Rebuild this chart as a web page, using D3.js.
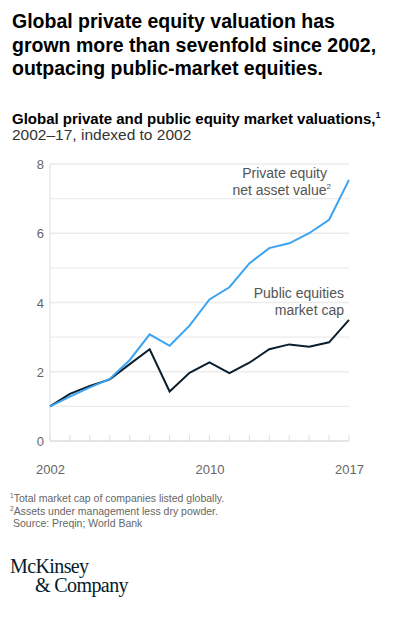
<!DOCTYPE html>
<html>
<head>
<meta charset="utf-8">
<script src="https://cdn.jsdelivr.net/npm/d3@7"></script>
<style>
  body { margin: 0; background: #fff; }
  svg { display: block; font-family: "Liberation Sans", Arial, sans-serif; }
</style>
</head>
<body>
<div id="chart"></div>
<script>
const years = [2002, 2003, 2004, 2005, 2006, 2007, 2008, 2009, 2010, 2011, 2012, 2013, 2014, 2015, 2016, 2017]
const privateEquity = [1, 1.28, 1.55, 1.79, 2.34, 3.08, 2.75, 3.33, 4.09, 4.44, 5.13, 5.57, 5.71, 6.0, 6.39, 7.54]
const publicEquity = [1, 1.36, 1.59, 1.78, 2.22, 2.65, 1.43, 1.97, 2.27, 1.96, 2.26, 2.65, 2.79, 2.72, 2.85, 3.5]
const yTicks = [0, 2, 4, 6, 8]
const xTickLabels = [2002, 2010, 2017]

const width = 393
const height = 617
const margin = { top: 164, left: 50, right: 44, bottom: 176 }

var svg = d3
    .select('#chart')
    .append('svg')
    .attr('width', width)
    .attr('height', height)

// headline + subtitle
var title = svg.append('text')
    .attr('x', 12)
    .attr('y', 28)
    .attr('font-size', 19.5)
    .attr('font-weight', 'bold')
    .attr('fill', '#000')
;['Global private equity valuation has',
  'grown more than sevenfold since 2002,',
  'outpacing public-market equities.'].forEach(function(line, i) {
    title.append('tspan').attr('x', 12).attr('dy', i ? 23.5 : 0).text(line)
})

var sub = svg.append('text')
    .attr('x', 12)
    .attr('y', 124)
    .attr('font-size', 15)
    .attr('fill', '#000')
sub.append('tspan').attr('font-weight', 'bold').text('Global private and public equity market valuations,')
sub.append('tspan').attr('font-size', 9).attr('dy', -6).attr('font-weight', 'bold').text('1')

svg.append('text')
    .attr('x', 12)
    .attr('y', 140)
    .attr('font-size', 15.5)
    .attr('fill', '#333')
    .text('2002\u201317, indexed to 2002')

var x = d3.scaleLinear()
    .domain([2002, 2017])
    .range([margin.left, width - margin.right])

var y = d3.scaleLinear()
    .domain([0, 8])
    .range([height - margin.bottom, margin.top])

var g = svg.append('g')

// horizontal grid at every whole number
g.selectAll('.grid')
    .data(d3.range(0, 9))
    .enter().append('line')
    .attr('class', 'grid')
    .attr('x1', x(2002))
    .attr('x2', x(2017))
    .attr('y1', function(d) { return y(d) })
    .attr('y2', function(d) { return y(d) })
    .attr('stroke', function(d) { return d === 0 ? '#dcdcdc' : '#ebebeb' })
    .attr('stroke-width', function(d) { return d % 2 === 0 ? 1.5 : 1.2 })

// left axis line
g.append('line')
    .attr('x1', x(2002)).attr('x2', x(2002))
    .attr('y1', y(0)).attr('y2', y(8))
    .attr('stroke', '#e4e4e4')
    .attr('stroke-width', 1.2)

// year ticks sitting on the baseline
g.selectAll('.yr')
    .data(years)
    .enter().append('line')
    .attr('class', 'yr')
    .attr('x1', function(d) { return x(d) })
    .attr('x2', function(d) { return x(d) })
    .attr('y1', y(0))
    .attr('y2', y(0) - 6)
    .attr('stroke', '#dcdcdc')
    .attr('stroke-width', 1)

var yAxis = d3.axisLeft(y).tickValues(yTicks).tickSize(0).tickPadding(6)
svg.append('g')
    .attr('transform', 'translate(' + x(2002) + ',0)')
    .call(yAxis)
    .call(function(a) {
      a.select('.domain').remove()
      a.selectAll('text')
        .attr('font-size', 13)
        .style('font-family', '"Liberation Sans", Arial, sans-serif')
        .attr('fill', '#666')
        .attr('dy', '0.35em')
    })

var xAxis = d3.axisBottom(x).tickValues(xTickLabels).tickFormat(d3.format('d')).tickSize(0).tickPadding(24)
svg.append('g')
    .attr('transform', 'translate(0,' + y(0) + ')')
    .call(xAxis)
    .call(function(a) {
      a.select('.domain').remove()
      a.selectAll('text')
        .attr('font-size', 13)
        .style('font-family', '"Liberation Sans", Arial, sans-serif')
        .attr('fill', '#666')
    })

var line = d3.line()
    .x(function(d, i) { return x(years[i]) })
    .y(function(d) { return y(d) })

g.append('path')
    .datum(publicEquity)
    .attr('fill', 'none')
    .attr('stroke', '#0b1e2d')
    .attr('stroke-width', 2)
    .attr('d', line)

g.append('path')
    .datum(privateEquity)
    .attr('fill', 'none')
    .attr('stroke', '#3aa3f2')
    .attr('stroke-width', 2)
    .attr('d', line)

// annotations
var ann = svg.append('g')
    .attr('font-size', 14)
    .attr('fill', '#555')
    .attr('text-anchor', 'end')
ann.append('text').attr('x', 327).attr('y', 178).text('Private equity')
var nav = ann.append('text').attr('x', 331).attr('y', 195)
nav.append('tspan').text('net asset value')
nav.append('tspan').attr('font-size', 8).attr('dy', -6).text('2')
ann.append('text').attr('x', 344).attr('y', 298).text('Public equities')
ann.append('text').attr('x', 344).attr('y', 315).text('market cap')

// footnotes
var notes = [
  ['1', 'Total market cap of companies listed globally.', 10],
  ['2', 'Assets under management less dry powder.', 10],
  ['', 'Source: Preqin; World Bank', 13]
]
notes.forEach(function(n, i) {
  var t = svg.append('text')
      .attr('x', n[2])
      .attr('y', 502 + i * 12.5)
      .attr('font-size', 10.5)
      .attr('fill', '#666')
  if (n[0]) t.append('tspan').attr('font-size', 6.5).attr('dy', -4).text(n[0])
  t.append('tspan').attr('dy', n[0] ? 4 : 0).text(n[1])
})

// logo
var logo = svg.append('g')
    .style('font-family', '"Liberation Serif", "Times New Roman", serif')
    .attr('font-size', 20)
    .attr('fill', '#051c2c')
logo.append('text').attr('x', 10).attr('y', 573).attr('letter-spacing', -0.6).text('McKinsey')
logo.append('text').attr('x', 35).attr('y', 592).attr('letter-spacing', -0.6).text('& Company')
</script>
</body>
</html>
